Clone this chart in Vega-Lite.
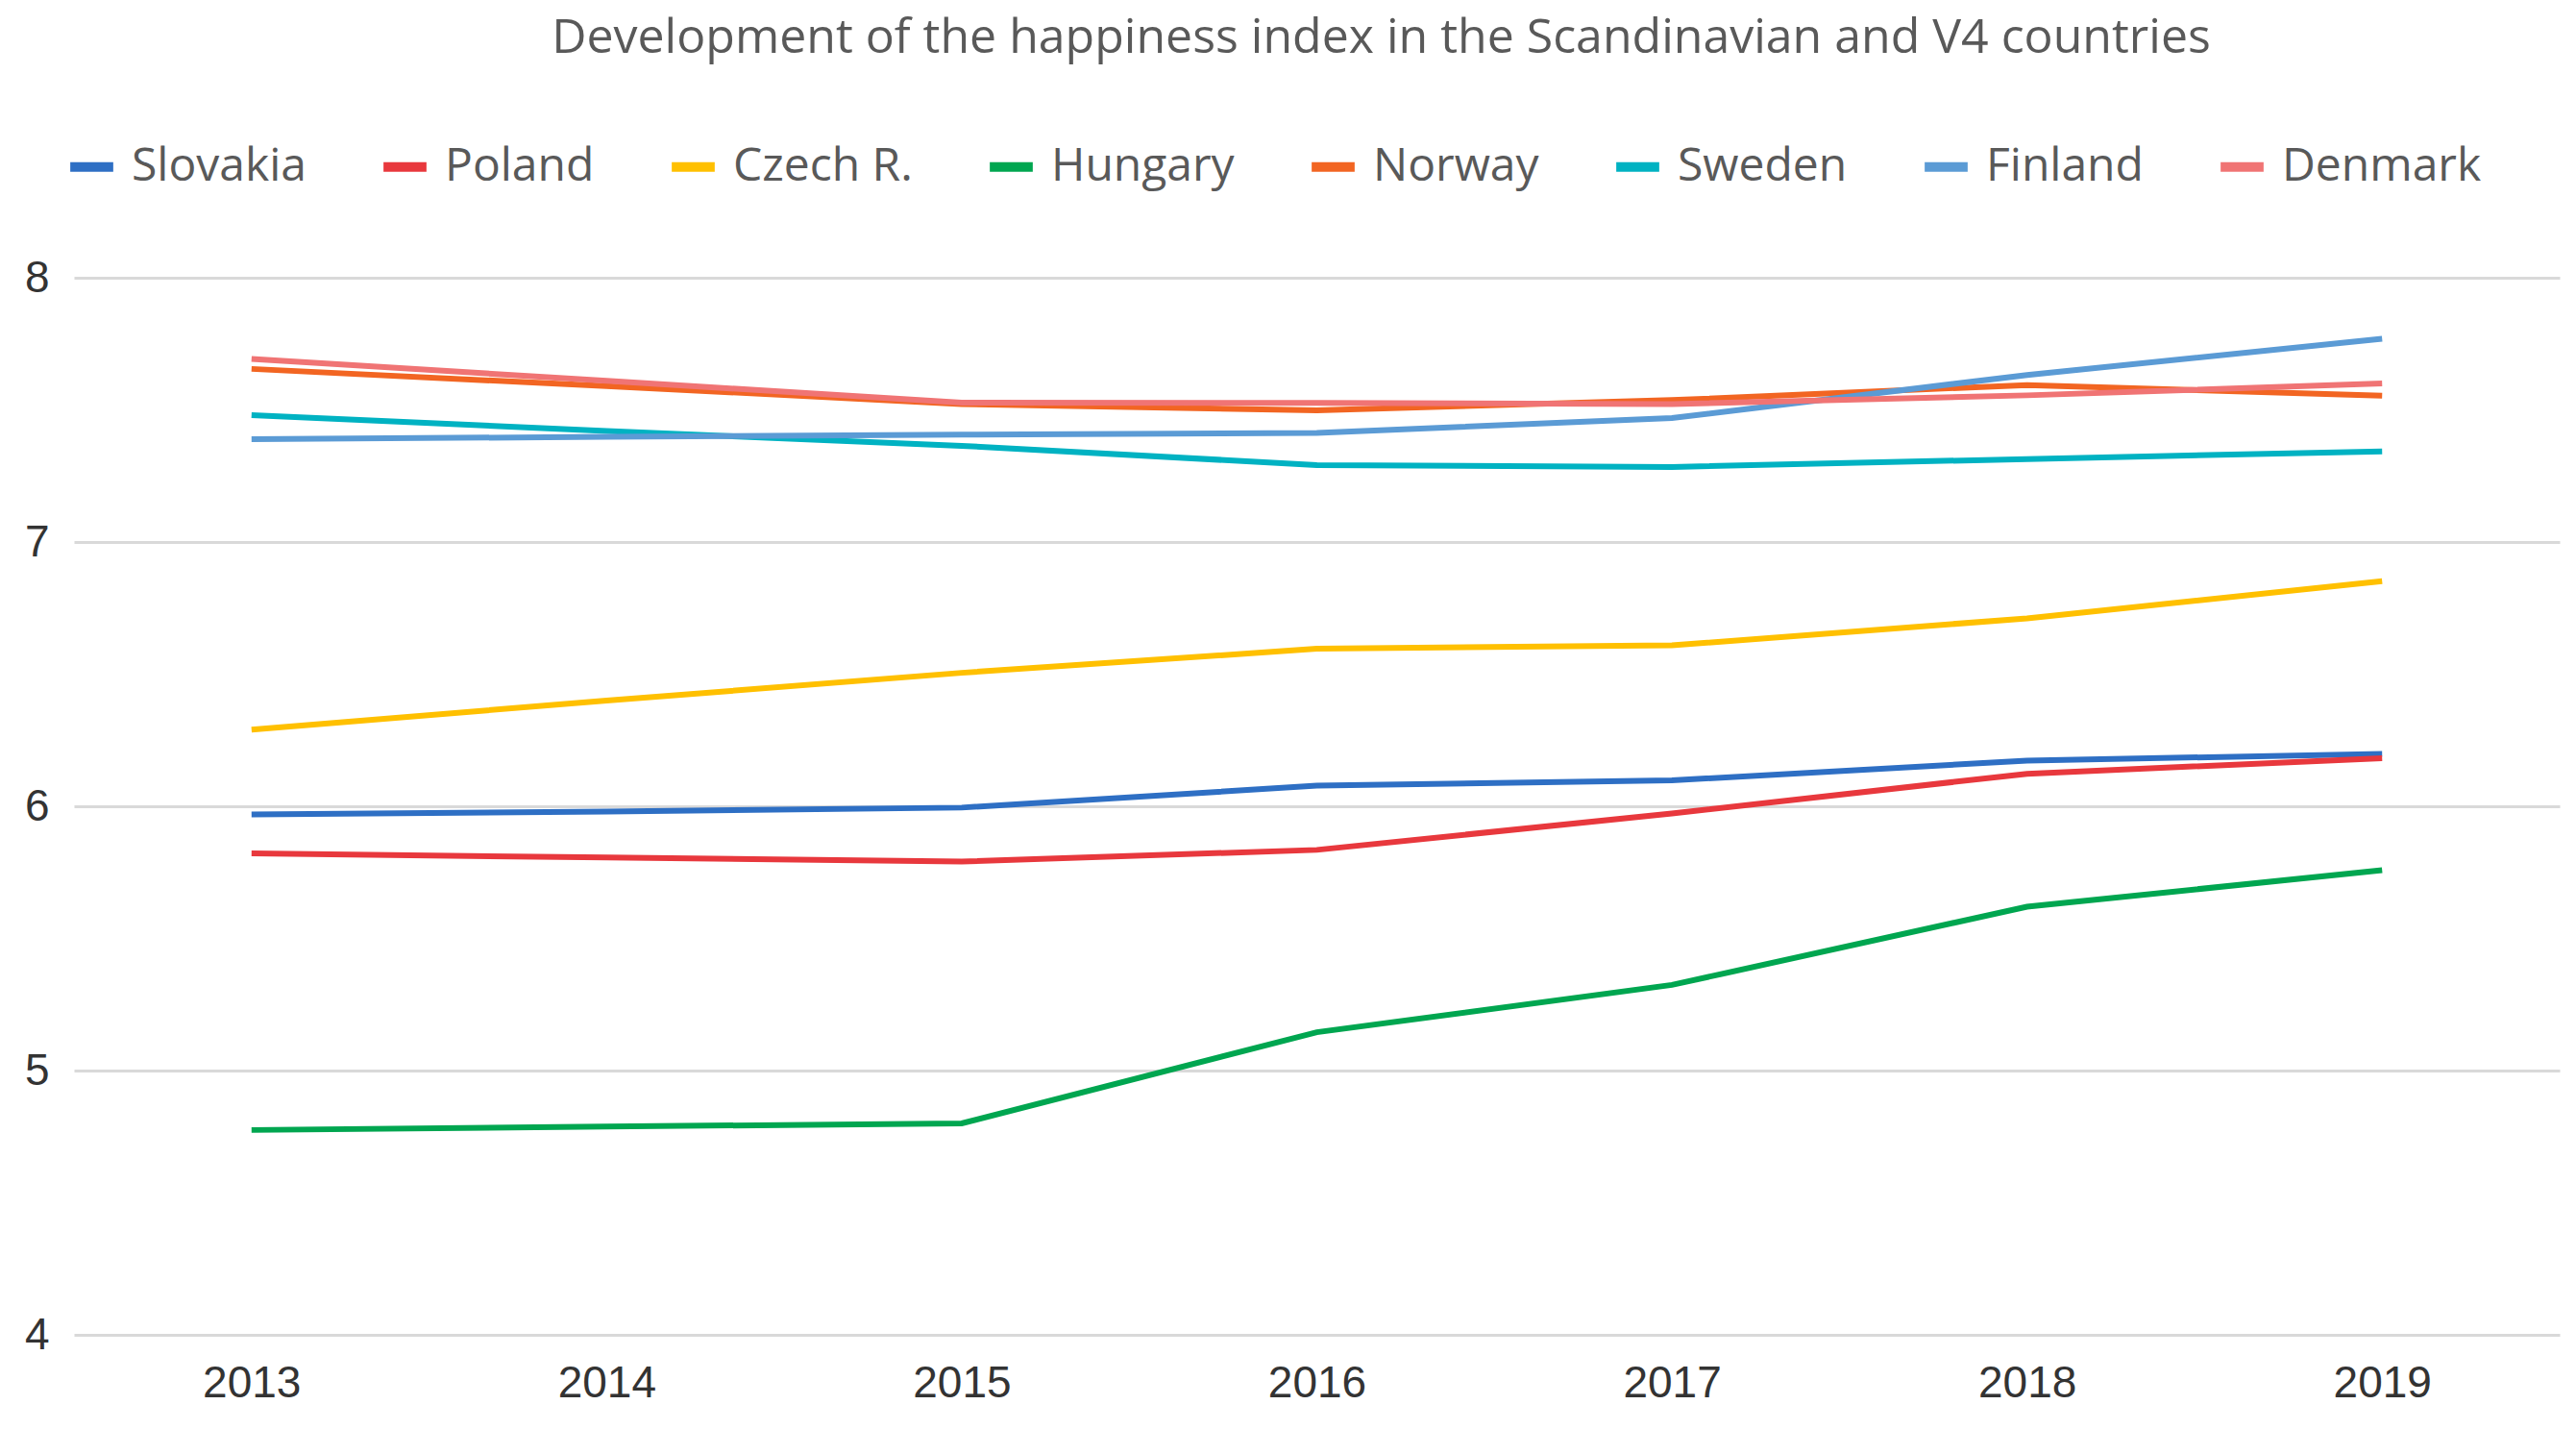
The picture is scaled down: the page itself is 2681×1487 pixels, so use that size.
{
  "$schema": "https://vega.github.io/schema/vega-lite/v6.json",
  "autosize": {"type": "none"},
  "width": 2587,
  "height": 1100,
  "padding": {"left": 77, "top": 289, "right": 17, "bottom": 98},
  "background": "white",
  "title": {
    "text": "Development of the happiness index in the Scandinavian and V4 countries",
    "fontSize": 50,
    "font": "Open Sans",
    "fontWeight": "normal",
    "color": "#595959",
    "anchor": "middle",
    "dx": 67,
    "offset": 81
  },
  "data": {
    "values": [
      {"year": "2013", "country": "Slovakia", "value": 5.969},
      {"year": "2014", "country": "Slovakia", "value": 5.98},
      {"year": "2015", "country": "Slovakia", "value": 5.995},
      {"year": "2016", "country": "Slovakia", "value": 6.078},
      {"year": "2017", "country": "Slovakia", "value": 6.098},
      {"year": "2018", "country": "Slovakia", "value": 6.173},
      {"year": "2019", "country": "Slovakia", "value": 6.198},
      {"year": "2013", "country": "Poland", "value": 5.822},
      {"year": "2014", "country": "Poland", "value": 5.806},
      {"year": "2015", "country": "Poland", "value": 5.791},
      {"year": "2016", "country": "Poland", "value": 5.835},
      {"year": "2017", "country": "Poland", "value": 5.973},
      {"year": "2018", "country": "Poland", "value": 6.123},
      {"year": "2019", "country": "Poland", "value": 6.182},
      {"year": "2013", "country": "Czech R.", "value": 6.29},
      {"year": "2014", "country": "Czech R.", "value": 6.40},
      {"year": "2015", "country": "Czech R.", "value": 6.505},
      {"year": "2016", "country": "Czech R.", "value": 6.596},
      {"year": "2017", "country": "Czech R.", "value": 6.609},
      {"year": "2018", "country": "Czech R.", "value": 6.711},
      {"year": "2019", "country": "Czech R.", "value": 6.852},
      {"year": "2013", "country": "Hungary", "value": 4.775},
      {"year": "2014", "country": "Hungary", "value": 4.788},
      {"year": "2015", "country": "Hungary", "value": 4.80},
      {"year": "2016", "country": "Hungary", "value": 5.145},
      {"year": "2017", "country": "Hungary", "value": 5.324},
      {"year": "2018", "country": "Hungary", "value": 5.62},
      {"year": "2019", "country": "Hungary", "value": 5.758},
      {"year": "2013", "country": "Norway", "value": 7.655},
      {"year": "2014", "country": "Norway", "value": 7.59},
      {"year": "2015", "country": "Norway", "value": 7.522},
      {"year": "2016", "country": "Norway", "value": 7.498},
      {"year": "2017", "country": "Norway", "value": 7.537},
      {"year": "2018", "country": "Norway", "value": 7.594},
      {"year": "2019", "country": "Norway", "value": 7.554},
      {"year": "2013", "country": "Sweden", "value": 7.48},
      {"year": "2014", "country": "Sweden", "value": 7.42},
      {"year": "2015", "country": "Sweden", "value": 7.364},
      {"year": "2016", "country": "Sweden", "value": 7.291},
      {"year": "2017", "country": "Sweden", "value": 7.284},
      {"year": "2018", "country": "Sweden", "value": 7.314},
      {"year": "2019", "country": "Sweden", "value": 7.343},
      {"year": "2013", "country": "Finland", "value": 7.389},
      {"year": "2014", "country": "Finland", "value": 7.398},
      {"year": "2015", "country": "Finland", "value": 7.406},
      {"year": "2016", "country": "Finland", "value": 7.413},
      {"year": "2017", "country": "Finland", "value": 7.469},
      {"year": "2018", "country": "Finland", "value": 7.632},
      {"year": "2019", "country": "Finland", "value": 7.769},
      {"year": "2013", "country": "Denmark", "value": 7.693},
      {"year": "2014", "country": "Denmark", "value": 7.61},
      {"year": "2015", "country": "Denmark", "value": 7.527},
      {"year": "2016", "country": "Denmark", "value": 7.526},
      {"year": "2017", "country": "Denmark", "value": 7.522},
      {"year": "2018", "country": "Denmark", "value": 7.555},
      {"year": "2019", "country": "Denmark", "value": 7.60}
    ]
  },
  "mark": {"type": "line", "strokeWidth": 6},
  "encoding": {
    "x": {
      "field": "year",
      "type": "ordinal",
      "scale": {"type": "point", "padding": 0.5},
      "axis": {
        "title": null,
        "labelAngle": 0,
        "labelFontSize": 46,
        "labelFont": "Liberation Sans",
        "labelColor": "#333333",
        "labelPadding": 28,
        "domain": false,
        "ticks": false,
        "grid": false
      }
    },
    "y": {
      "field": "value",
      "type": "quantitative",
      "scale": {"domain": [4, 8], "nice": false, "zero": false},
      "axis": {
        "title": null,
        "values": [4, 5, 6, 7, 8],
        "labelFontSize": 46,
        "labelFont": "Liberation Sans",
        "labelColor": "#333333",
        "labelPadding": 26,
        "domain": false,
        "ticks": false,
        "grid": true,
        "gridColor": "#D9D9D9",
        "gridWidth": 3
      }
    },
    "color": {
      "field": "country",
      "type": "nominal",
      "scale": {
        "domain": ["Slovakia", "Poland", "Czech R.", "Hungary", "Norway", "Sweden", "Finland", "Denmark"],
        "range": ["#2E6FC4", "#E8383D", "#FFC000", "#00A650", "#F26522", "#00B2C2", "#5B9BD5", "#F07474"]
      },
      "legend": {
        "title": null,
        "orient": "none",
        "legendX": -9,
        "legendY": -143,
        "direction": "horizontal",
        "columns": 8,
        "gridAlign": "each",
        "columnPadding": 60,
        "symbolType": "stroke",
        "symbolSize": 2000,
        "symbolStrokeWidth": 10,
        "labelFontSize": 48,
        "labelFont": "Open Sans",
        "labelColor": "#595959",
        "labelOffset": 14,
        "labelLimit": 500
      }
    }
  },
  "config": {"view": {"stroke": null}}
}
